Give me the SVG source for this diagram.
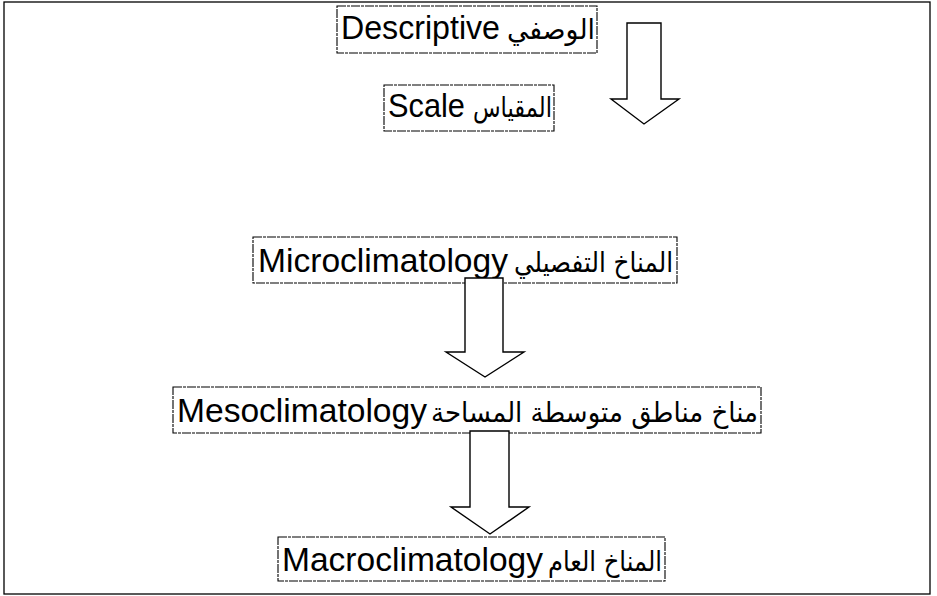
<svg xmlns="http://www.w3.org/2000/svg" width="937" height="596" viewBox="0 0 937 596">
<style>
.frame{fill:none;stroke:#000;stroke-width:1.3}
.box{fill:#fff;stroke:#000;stroke-width:1.1;stroke-dasharray:9 1 3 1}
.arr{fill:#fff;stroke:#000;stroke-width:1.4;stroke-linejoin:miter}
.t{font-family:"Liberation Sans",Arial,sans-serif;font-size:33px;fill:#000}
.ar{font-family:"DejaVu Sans","Liberation Sans",sans-serif;font-size:28px;fill:#000;text-anchor:end}
</style>
<rect width="937" height="596" fill="#fff"/>
<rect class="frame" x="4" y="2" width="926" height="592"/>
<g id="n-descriptive">
<rect class="box" x="337" y="6" width="260" height="47"/>
<text class="t" x="341" y="39" textLength="159" lengthAdjust="spacingAndGlyphs">Descriptive</text>
<text class="ar" x="595" y="39" textLength="88" lengthAdjust="spacingAndGlyphs">الوصفي</text>
</g>
<g id="n-scale">
<rect class="box" x="384" y="85" width="170" height="46"/>
<text class="t" x="388" y="117" textLength="77" lengthAdjust="spacingAndGlyphs">Scale</text>
<text class="ar" x="552" y="117" textLength="79" lengthAdjust="spacingAndGlyphs">المقياس</text>
</g>
<g id="n-micro">
<rect class="box" x="253" y="237" width="424" height="46"/>
<text class="t" x="258" y="272" textLength="250" lengthAdjust="spacingAndGlyphs">Microclimatology</text>
<text class="ar" x="673" y="272" textLength="159" lengthAdjust="spacingAndGlyphs">المناخ التفصيلي</text>
</g>
<g id="n-meso">
<rect class="box" x="173" y="387" width="588" height="46"/>
<text class="t" x="177" y="422" textLength="250" lengthAdjust="spacingAndGlyphs">Mesoclimatology</text>
<text class="ar" x="758" y="422" textLength="327" lengthAdjust="spacingAndGlyphs">مناخ مناطق متوسطة المساحة</text>
</g>
<g id="n-macro">
<rect class="box" x="278" y="537" width="387" height="44"/>
<text class="t" x="282" y="571" textLength="261" lengthAdjust="spacingAndGlyphs">Macroclimatology</text>
<text class="ar" x="662" y="571" textLength="114" lengthAdjust="spacingAndGlyphs">المناخ العام</text>
</g>
<g id="connectors">
<polygon class="arr" points="627,23 661,23 661,99 679,99 644,124 611,99 627,99"/>
<polygon class="arr" points="465,278 503,278 503,352 524,352 485,377 446,352 465,352"/>
<polygon class="arr" points="470,431 509,431 509,507 529,507 490,534 451,507 470,507"/>
</g>
</svg>
